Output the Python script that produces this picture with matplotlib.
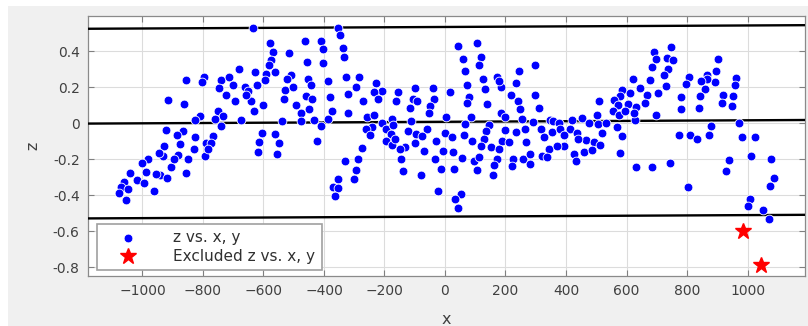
import matplotlib.pyplot as plt
import numpy as np
from matplotlib.patches import Rectangle

# points (x, z), grouped by x range
pts_far_left = [
    (-857, 0.237), (-797, 0.256), (-804, 0.23), (-916, 0.126), (-864, 0.107),
    (-811, 0.039), (-826, 0.017), (-923, -0.039), (-867, -0.046), (-885, -0.069),
    (-826, -0.076), (-928, -0.128), (-877, -0.117), (-831, -0.143), (-791, -0.109),
    (-932, -0.183), (-884, -0.176), (-849, -0.202), (-793, -0.183), (-983, -0.202),
    (-1001, -0.22), (-945, -0.169), (-904, -0.243), (-1040, -0.276), (-987, -0.272),
    (-941, -0.287), (-919, -0.306), (-857, -0.276), (-1060, -0.328), (-1018, -0.319),
    (-996, -0.332), (-1071, -0.354), (-1047, -0.369), (-961, -0.376), (-1054, -0.428),
    (-1078, -0.387), (-895, -0.202), (-956, -0.283),
]
pts_left = [
    (-634, 0.528), (-579, 0.446), (-568, 0.394), (-515, 0.387), (-464, 0.454),
    (-409, 0.457), (-574, 0.35), (-581, 0.324), (-455, 0.339), (-404, 0.409),
    (-404, 0.333), (-682, 0.298), (-629, 0.283), (-592, 0.272), (-563, 0.283),
    (-510, 0.268), (-521, 0.243), (-453, 0.246), (-742, 0.24), (-713, 0.254),
    (-702, 0.209), (-746, 0.194), (-620, 0.213), (-594, 0.24), (-660, 0.202),
    (-651, 0.176), (-530, 0.183), (-504, 0.198), (-442, 0.209), (-693, 0.124),
    (-640, 0.124), (-601, 0.098), (-532, 0.135), (-493, 0.102), (-460, 0.15),
    (-440, 0.131), (-449, 0.076), (-475, 0.057), (-750, 0.065), (-735, 0.039),
    (-759, 0.02), (-742, -0.017), (-675, 0.017), (-631, 0.068), (-539, 0.009),
    (-477, 0.009), (-433, 0.017), (-409, -0.017), (-605, -0.057), (-563, -0.061),
    (-614, -0.106), (-550, -0.113), (-618, -0.161), (-556, -0.172), (-422, -0.1),
    (-768, -0.072), (-775, -0.109), (-783, -0.143), (-724, 0.154), (-658, 0.154),
]
pts_mid_left = [
    (-353, 0.531), (-346, 0.487), (-337, 0.417), (-335, 0.369), (-386, 0.235),
    (-328, 0.257), (-284, 0.254), (-293, 0.198), (-227, 0.224), (-209, 0.176),
    (-234, 0.172), (-322, 0.161), (-381, 0.146), (-271, 0.124), (-220, 0.131),
    (-154, 0.172), (-163, 0.12), (-99, 0.194), (-40, 0.194), (-106, 0.131),
    (-93, 0.12), (-37, 0.131), (-117, 0.083), (-49, 0.094), (-53, 0.057),
    (-320, 0.057), (-375, 0.065), (-386, 0.02), (-258, 0.035), (-234, 0.046),
    (-174, 0.02), (-112, 0.009), (-207, 0.002), (-240, -0.024), (-260, -0.035),
    (-249, -0.069), (-194, -0.035), (-179, -0.063), (-196, -0.102), (-176, -0.12),
    (-123, -0.046), (-132, -0.135), (-148, -0.146), (-95, -0.063), (-99, -0.113),
    (-60, -0.035), (-29, -0.098), (-70, -0.157), (-33, -0.198), (-77, -0.074),
    (-145, -0.198), (-273, -0.139), (-289, -0.198), (-331, -0.213), (-295, -0.261),
    (-355, -0.309), (-302, -0.313), (-370, -0.357), (-353, -0.361), (-364, -0.406),
    (-139, -0.265), (-79, -0.287), (-22, -0.376), (-172, -0.009), (-165, -0.091),
]
pts_mid_right = [
    (43, 0.428), (107, 0.446), (120, 0.369), (111, 0.324), (61, 0.354),
    (65, 0.287), (74, 0.209), (127, 0.246), (131, 0.187), (171, 0.254),
    (184, 0.198), (177, 0.235), (235, 0.224), (244, 0.291), (299, 0.324),
    (17, 0.172), (78, 0.146), (74, 0.109), (138, 0.105), (219, 0.157),
    (241, 0.12), (297, 0.154), (310, 0.083), (248, 0.076), (186, 0.057),
    (197, 0.031), (3, 0.031), (85, 0.035), (67, -0.006), (144, -0.009),
    (255, 0.02), (292, 0.006), (347, 0.017), (358, 0.009), (-1, -0.057),
    (23, -0.08), (63, -0.069), (89, -0.098), (136, -0.043), (129, -0.091),
    (120, -0.128), (153, -0.131), (197, -0.039), (188, -0.102), (211, -0.106),
    (235, -0.05), (266, -0.035), (268, -0.106), (318, -0.035), (327, -0.076),
    (354, -0.05), (343, -0.146), (-8, -0.154), (27, -0.161), (56, -0.194),
    (96, -0.213), (113, -0.191), (177, -0.146), (173, -0.198), (162, -0.231),
    (158, -0.291), (107, -0.261), (224, -0.198), (221, -0.239), (257, -0.198),
    (281, -0.172), (281, -0.228), (321, -0.183), (338, -0.187), (-12, -0.257),
    (30, -0.257), (52, -0.394), (34, -0.424), (43, -0.472),
]
pts_right = [
    (692, 0.394), (747, 0.42), (699, 0.354), (734, 0.361), (754, 0.35),
    (683, 0.309), (736, 0.302), (725, 0.265), (621, 0.243), (679, 0.239),
    (729, 0.206), (644, 0.194), (586, 0.183), (611, 0.165), (577, 0.15),
    (705, 0.168), (668, 0.154), (509, 0.124), (558, 0.128), (606, 0.105),
    (632, 0.091), (573, 0.098), (661, 0.109), (502, 0.043), (555, 0.068),
    (575, 0.043), (595, 0.065), (699, 0.046), (628, 0.017), (626, 0.057),
    (419, 0.017), (452, 0.028), (476, 0.0), (507, -0.006), (533, 0.002),
    (569, -0.024), (377, 0.002), (381, -0.035), (412, -0.031), (436, -0.054),
    (392, -0.065), (520, -0.054), (586, -0.072), (465, -0.094), (491, -0.106),
    (514, -0.124), (439, -0.087), (394, -0.128), (370, -0.128), (425, -0.172),
    (434, -0.209), (458, -0.161), (485, -0.15), (577, -0.165), (630, -0.243),
    (685, -0.246), (745, -0.224),
]
pts_far_right = [
    (902, 0.357), (896, 0.287), (894, 0.228), (808, 0.254), (865, 0.269),
    (865, 0.246), (847, 0.231), (797, 0.217), (962, 0.25), (958, 0.209),
    (858, 0.191), (781, 0.146), (843, 0.15), (920, 0.154), (951, 0.15),
    (916, 0.113), (949, 0.094), (779, 0.076), (839, 0.083), (878, -0.017),
    (973, -0.002), (772, -0.069), (810, -0.069), (832, -0.091), (872, -0.065),
    (982, -0.076), (1024, -0.076), (1013, -0.183), (938, -0.206), (929, -0.269),
    (1079, -0.202), (1088, -0.306), (1074, -0.35), (803, -0.357), (1008, -0.42),
    (1002, -0.461), (1052, -0.483), (1070, -0.531),
]
excluded_x = [984, 1046]
excluded_z = [-0.602, -0.787]

# fitted line and bounds
fit_intercept = 0.007
fit_slope = 8.4e-6
bound_offset = 0.527

x_ticks = [-1000, -800, -600, -400, -200, 0, 200, 400, 600, 800, 1000]
z_ticks = [-0.8, -0.6, -0.4, -0.2, 0, 0.2, 0.4]
x_lim = (-1180, 1190)
z_lim = (-0.85, 0.595)

pts = np.array(pts_far_left + pts_left + pts_mid_left + pts_mid_right + pts_right + pts_far_right)

fig = plt.figure(figsize=(8.08, 3.26), dpi=100)
fig.patch.set_facecolor('white')
fig.patches.append(Rectangle((8 / 808, 0), 1, 1 - 6 / 326, transform=fig.transFigure,
                             facecolor='#f0f0f0', edgecolor='none', zorder=-10))
ax = fig.add_axes([88 / 808, 50 / 326, 717 / 808, 260 / 326])
ax.set_facecolor('white')

xl = np.array(x_lim)
for off in (bound_offset, 0, -bound_offset):
    ax.plot(xl, fit_intercept + fit_slope * xl + off, color='black', lw=1.7, zorder=3)

ax.scatter(pts[:, 0], pts[:, 1], s=40, c='#0000ff', edgecolors='white', linewidths=0.6,
           zorder=4, label='z vs. x, y')
ax.plot(excluded_x, excluded_z, ls='none', marker='*', color='red', ms=12,
        zorder=5, label='Excluded z vs. x, y')

ax.set_xlim(*x_lim)
ax.set_ylim(*z_lim)
ax.set_xticks(x_ticks)
ax.set_yticks(z_ticks)
ax.set_yticklabels(['-0.8', '-0.6', '-0.4', '-0.2', '0', '0.2', '0.4'])
ax.grid(True, color='#dcdcdc', lw=0.8)
ax.set_axisbelow(True)
ax.tick_params(direction='in', top=True, right=True, length=4, width=0.8,
               color='#808080', labelsize=10, labelcolor='#404040', pad=6)
for s in ax.spines.values():
    s.set_color('#8a8a8a')
    s.set_linewidth(0.9)

ax.set_xlabel('x', fontsize=11.5, color='#404040', labelpad=10)
ax.set_ylabel('z', fontsize=11.5, color='#404040', labelpad=9)

leg = ax.legend(loc='lower left', bbox_to_anchor=(0.0126, 0.023), borderaxespad=0,
                fancybox=False, framealpha=1, edgecolor='#a0a0a0', fontsize=11,
                handletextpad=1.4, borderpad=0.4, labelspacing=0.25, handlelength=3.2)
for t in leg.get_texts():
    t.set_color('#303030')
leg.get_frame().set_linewidth(1.2)

fig.savefig('out.png', dpi=100, facecolor=fig.get_facecolor())
